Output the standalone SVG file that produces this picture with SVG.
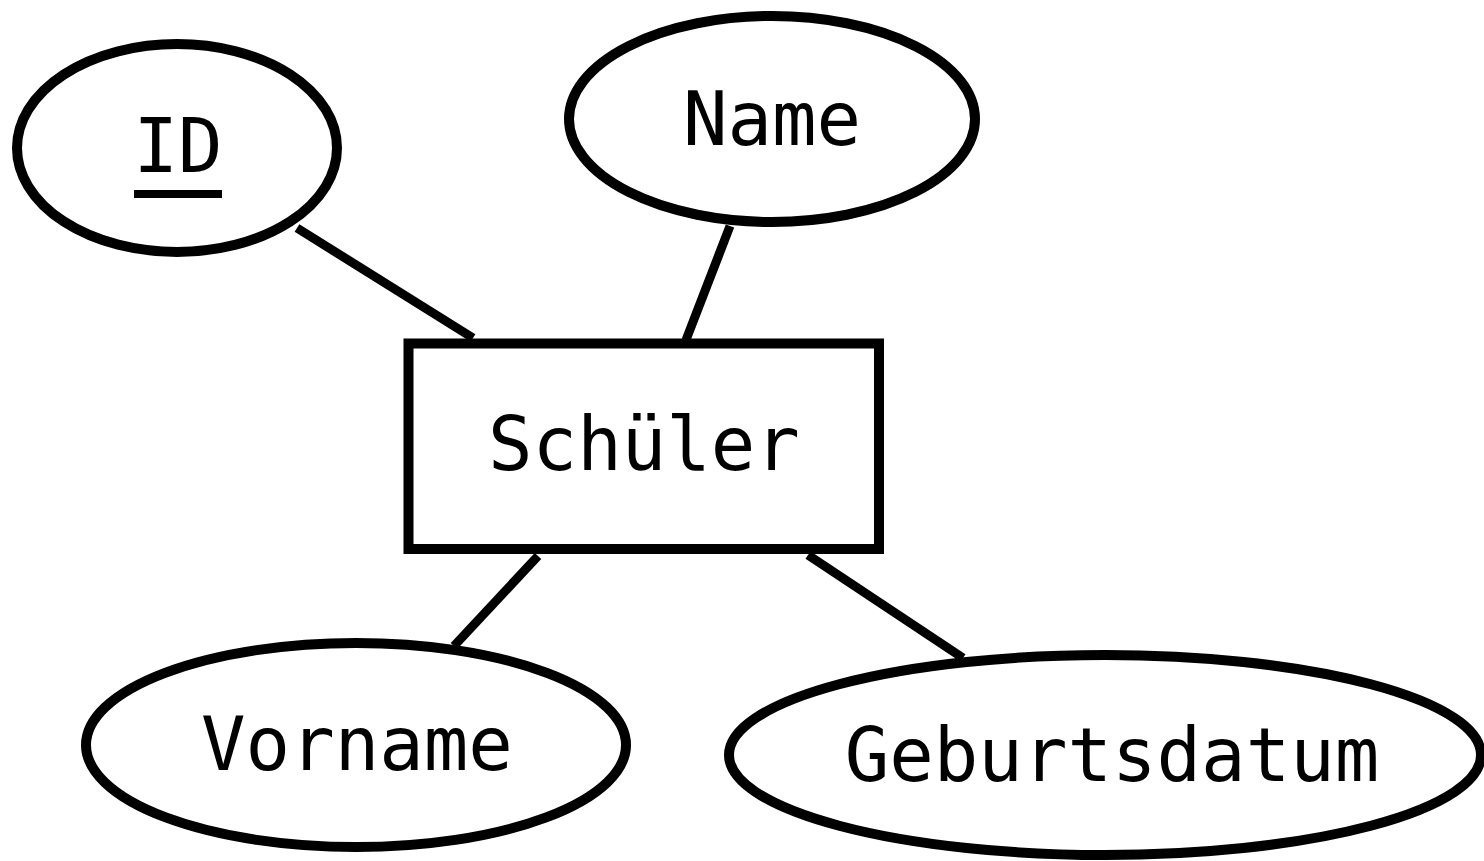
<svg xmlns="http://www.w3.org/2000/svg" width="1484" height="861" viewBox="0 0 1484 861">
<style>
.shape{fill:#fff;stroke:#000;stroke-width:10}
.lbl{font-family:"DejaVu Sans Mono","Liberation Mono",monospace;font-size:74px;fill:#000;text-anchor:middle}
.conn line{stroke:#000;stroke-width:9}
</style>
<rect width="1484" height="861" fill="#fff"/>
<g class="conn" id="connectors">
<line x1="297" y1="228" x2="473" y2="338"/>
<line x1="730" y1="226" x2="686" y2="340"/>
<line x1="538" y1="556" x2="454" y2="646"/>
<line x1="808" y1="555" x2="963" y2="658"/>
</g>
<g id="id">
<ellipse class="shape" cx="177" cy="148" rx="160" ry="104"/>
<text class="lbl" x="178" y="172">ID</text>
<line x1="134" y1="194" x2="222" y2="194" stroke="#000" stroke-width="8"/>
</g>
<g id="name">
<ellipse class="shape" cx="772" cy="119" rx="203" ry="103"/>
<text class="lbl" x="772" y="145">Name</text>
</g>
<g id="schueler">
<rect class="shape" x="408.5" y="343.5" width="470.5" height="205.5"/>
<text class="lbl" x="644" y="470">Schüler</text>
</g>
<g id="vorname">
<ellipse class="shape" cx="356" cy="745" rx="270" ry="102"/>
<text class="lbl" x="357" y="770">Vorname</text>
</g>
<g id="geburtsdatum">
<ellipse class="shape" cx="1105" cy="755" rx="376" ry="100"/>
<text class="lbl" x="1112" y="781">Geburtsdatum</text>
</g>
</svg>
